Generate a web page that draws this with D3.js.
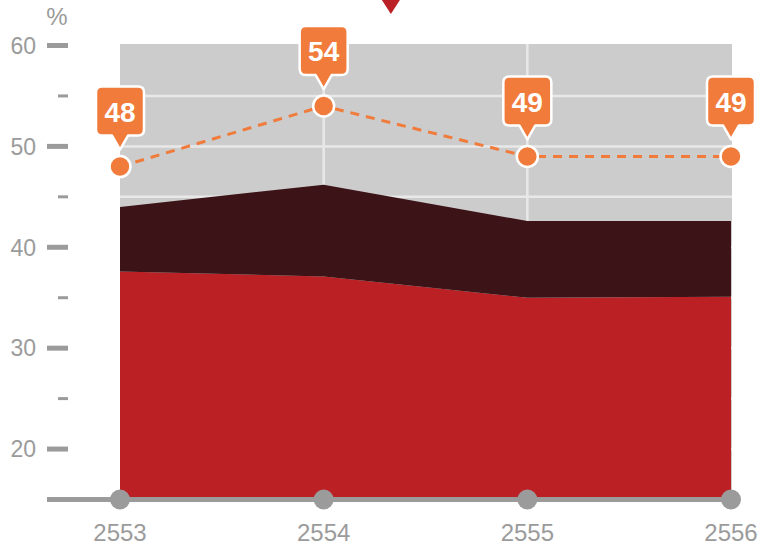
<!DOCTYPE html>
<html>
<head>
<meta charset="utf-8">
<script src="https://cdn.jsdelivr.net/npm/d3@7"></script>
<style>
  body { margin: 0; background: #fff; }
  text { font-family: "Liberation Sans", Arial, sans-serif; }
</style>
</head>
<body>
<script>
const width = 758, height = 546;

// data
const years = [2553, 2554, 2555, 2556];
const redValues = [37.6, 37.1, 35.0, 35.1];     // lower (red) band
const darkValues = [6.4, 9.1, 7.6, 7.5];        // upper (dark) band, stacked on red
const lineValues = [48, 54, 49, 49];            // orange dashed line
const majorTicks = [20, 30, 40, 50, 60];
const minorTicks = [25, 35, 45, 55];
const gridValues = [20, 25, 30, 35, 40, 45, 50, 55];
const markerYear = 2554.33;                     // red triangle at top

const svg = d3.select("body").append("svg")
  .attr("width", width)
  .attr("height", height);

const x = d3.scaleLinear().domain([2553, 2556]).range([120, 731]);
const y = d3.scaleLinear().domain([15, 60]).range([499.5, 45.5]);

const data = years.map((yr, i) => ({year: yr, red: redValues[i], dark: darkValues[i]}));
const series = d3.stack().keys(["red", "dark"])(data);

// plot background
svg.append("rect")
  .attr("x", x(2553))
  .attr("y", y(60) - 1.5)
  .attr("width", x(2556) - x(2553) + 1)
  .attr("height", y(15) - y(60) + 1.5)
  .attr("fill", "#cccccc");

// grid
svg.append("g").selectAll("line")
  .data(gridValues)
  .join("line")
  .attr("x1", x(2553)).attr("x2", x(2556) + 1)
  .attr("y1", d => y(d)).attr("y2", d => y(d))
  .attr("stroke", "#e8e8e8")
  .attr("stroke-width", 2.5);

svg.append("g").selectAll("line")
  .data(years.slice(1, 3))
  .join("line")
  .attr("x1", d => x(d)).attr("x2", d => x(d))
  .attr("y1", y(60) - 1.5).attr("y2", y(15))
  .attr("stroke", "#e8e8e8")
  .attr("stroke-width", 2.5);

// stacked areas (values are absolute %, bottom band sits on the 15 axis)
const colors = {red: "#bb2025", dark: "#3c1417"};
const area = d3.area()
  .x(d => x(d.data.year))
  .y0(d => d[0] === 0 ? y(15) : y(d[0]))
  .y1(d => y(d[1]));

svg.append("g").selectAll("path")
  .data(series)
  .join("path")
  .attr("d", area)
  .attr("fill", d => colors[d.key]);

// y axis ticks
const yAxis = svg.append("g");
yAxis.selectAll("line.major")
  .data(majorTicks)
  .join("line")
  .attr("class", "major")
  .attr("x1", 47).attr("x2", 68)
  .attr("y1", d => y(d)).attr("y2", d => y(d))
  .attr("stroke", "#9b9b9b")
  .attr("stroke-width", 5);

yAxis.selectAll("line.minor")
  .data(minorTicks)
  .join("line")
  .attr("class", "minor")
  .attr("x1", 58).attr("x2", 68)
  .attr("y1", d => y(d)).attr("y2", d => y(d))
  .attr("stroke", "#9b9b9b")
  .attr("stroke-width", 3);

yAxis.selectAll("text")
  .data(majorTicks)
  .join("text")
  .attr("x", 36)
  .attr("y", d => y(d))
  .attr("dy", "0.36em")
  .attr("text-anchor", "end")
  .attr("font-size", 23)
  .attr("fill", "#9b9b9b")
  .text(d => d);

svg.append("text")
  .attr("x", 57)
  .attr("y", 25)
  .attr("text-anchor", "middle")
  .attr("font-size", 24)
  .attr("fill", "#9b9b9b")
  .text("%");

// x axis
svg.append("line")
  .attr("x1", 47).attr("x2", x(2556))
  .attr("y1", y(15)).attr("y2", y(15))
  .attr("stroke", "#9b9b9b")
  .attr("stroke-width", 5);

svg.append("g").selectAll("circle")
  .data(years)
  .join("circle")
  .attr("cx", d => x(d))
  .attr("cy", y(15))
  .attr("r", 10)
  .attr("fill", "#9b9b9b");

svg.append("g").selectAll("text")
  .data(years)
  .join("text")
  .attr("x", d => x(d))
  .attr("y", 541)
  .attr("text-anchor", "middle")
  .attr("font-size", 24)
  .attr("fill", "#9b9b9b")
  .text(d => d);

// dashed line
const orange = "#f07b3a";
const lineData = years.map((yr, i) => ({year: yr, v: lineValues[i]}));
svg.append("path")
  .attr("d", d3.line().x(d => x(d.year)).y(d => y(d.v))(lineData))
  .attr("fill", "none")
  .attr("stroke", orange)
  .attr("stroke-width", 3)
  .attr("stroke-dasharray", "9,7");

svg.append("g").selectAll("circle")
  .data(lineData)
  .join("circle")
  .attr("cx", d => x(d.year))
  .attr("cy", d => y(d.v))
  .attr("r", 10.5)
  .attr("fill", orange)
  .attr("stroke", "#fff")
  .attr("stroke-width", 2.5);

// callout labels
const bw = 48, bh = 49, r = 6;
function callout(cx, cy) {
  const top = cy - 80, bot = cy - 31, tip = cy - 17;
  const l = cx - bw / 2, rt = cx + bw / 2;
  return `M${l + r},${top} H${rt - r} Q${rt},${top} ${rt},${top + r} V${bot - r} Q${rt},${bot} ${rt - r},${bot}` +
    ` H${cx + 8} L${cx},${tip} L${cx - 8},${bot} H${l + r} Q${l},${bot} ${l},${bot - r} V${top + r} Q${l},${top} ${l + r},${top} Z`;
}

const labels = svg.append("g").selectAll("g")
  .data(lineData)
  .join("g");

labels.append("path")
  .attr("d", d => callout(x(d.year), y(d.v)))
  .attr("fill", orange)
  .attr("stroke", "#fff")
  .attr("stroke-width", 2.5)
  .attr("stroke-linejoin", "round");

labels.append("text")
  .attr("x", d => x(d.year))
  .attr("y", d => y(d.v) - 55)
  .attr("dy", "0.36em")
  .attr("text-anchor", "middle")
  .attr("font-size", 28)
  .attr("font-weight", "bold")
  .attr("fill", "#fff")
  .text(d => d.v);

// red marker triangle at the top
const mx = x(markerYear);
svg.append("path")
  .attr("d", `M${mx - 9},0 L${mx + 9},0 L${mx},14 Z`)
  .attr("fill", "#bb2025");
</script>
</body>
</html>
